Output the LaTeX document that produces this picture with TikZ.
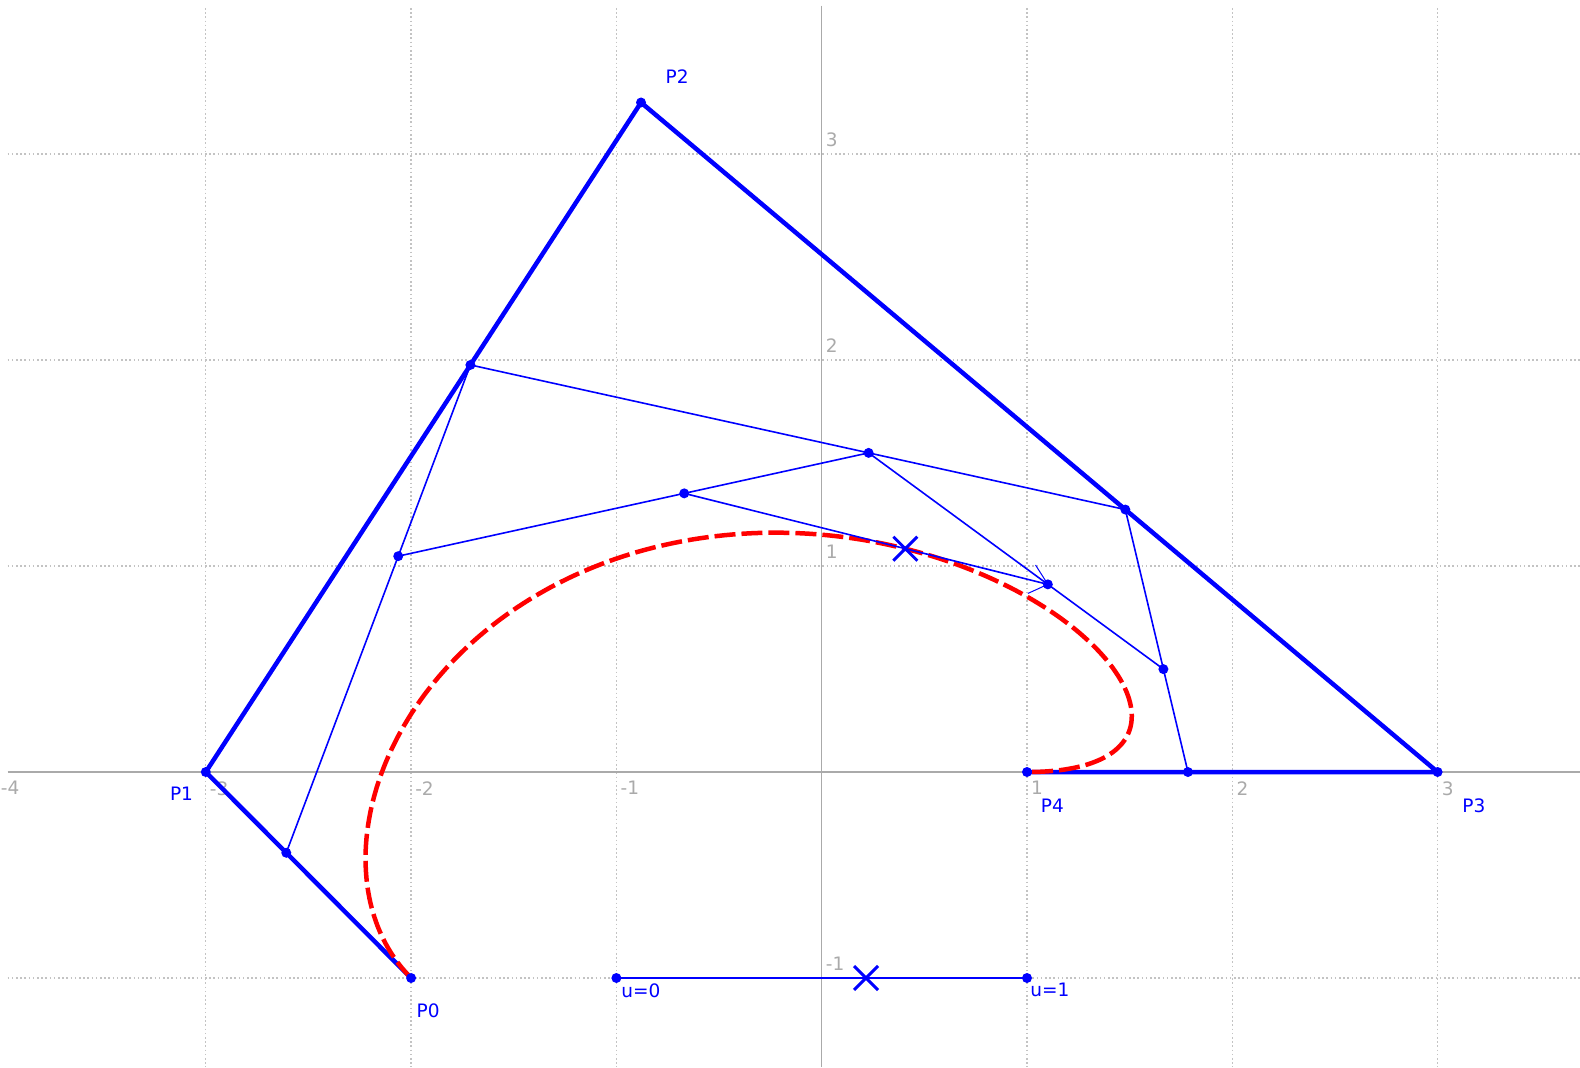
\documentclass[tikz,border=0pt]{standalone}
\usepackage{fontspec}
\setmainfont{DejaVu Sans}
\usetikzlibrary{calc}
\definecolor{pblue}{RGB}{0,0,255}
\definecolor{pred}{RGB}{255,0,0}
\definecolor{axisgray}{RGB}{170,170,170}
\definecolor{gridgray}{RGB}{195,195,195}
\newcommand\tpar{0.608}
\begin{document}
\begin{tikzpicture}[x=205.3bp,y=206bp,
  gridline/.style={gridgray,line width=1.4bp,dash pattern=on 1.6bp off 2.6bp},
  axisline/.style={axisgray,line width=1.6bp},
  ticklbl/.style={axisgray,inner sep=0pt,font=\fontsize{18.5bp}{22bp}\selectfont},
  ptlbl/.style={pblue,inner sep=0pt,anchor=north west,font=\fontsize{18.5bp}{22bp}\selectfont},
  ctrl/.style={pblue,line width=4.5bp,line join=round},
  thinline/.style={pblue,line width=1.6bp},
  curveline/.style={pred,line width=4.5bp,dash pattern=on 21bp off 6bp},
  crossline/.style={pblue,line width=3bp}
]
\useasboundingbox (-4.0024,-1.432) rectangle (3.6936,3.7476);
% grid
\foreach \gx in {-3,-2,-1,1,2,3} \draw[gridline] (\gx,3.709) -- (\gx,-1.432);
\foreach \gy in {-1,1,2,3} \draw[gridline] (-3.965,\gy) -- (3.6936,\gy);
% axes
\draw[axisline] (-3.965,0) -- (3.6936,0);
\draw[axisline] (0,3.72) -- (0,-1.432);
% tick labels
\node[ticklbl,anchor=north west] (txm4) at (-3.999,-0.044) {-4};
\foreach \gx/\lb in {-3/-3,-2/-2,-1/-1,1/1,2/2,3/3}
  \node[ticklbl,anchor=north west] (tx\gx) at (\gx+0.0195,-0.044) {\lb};
\foreach \gy/\lb in {-1/-1,1/1,2/2,3/3}
  \node[ticklbl,anchor=south west] (ty\gy) at (0.0195,\gy+0.034) {\lb};
% control points
\coordinate (P0) at (-2,-1);
\coordinate (P1) at (-3,0);
\coordinate (P2) at (-0.88,3.25);
\coordinate (P3) at (3,0);
\coordinate (P4) at (1,0);
\coordinate (Q0) at ($(P0)!\tpar!(P1)$);
\coordinate (Q1) at ($(P1)!\tpar!(P2)$);
\coordinate (Q2) at ($(P2)!\tpar!(P3)$);
\coordinate (Q3) at ($(P3)!\tpar!(P4)$);
\coordinate (R0) at ($(Q0)!\tpar!(Q1)$);
\coordinate (R1) at ($(Q1)!\tpar!(Q2)$);
\coordinate (R2) at ($(Q2)!\tpar!(Q3)$);
\coordinate (S0) at ($(R0)!\tpar!(R1)$);
\coordinate (S1) at ($(R1)!\tpar!(R2)$);
\coordinate (B) at ($(S0)!\tpar!(S1)$);
\coordinate (U0) at (-1,-1);
\coordinate (U1) at (1,-1);
\coordinate (UT) at ($(U0)!\tpar!(U1)$);
% control polygon
\draw[ctrl] (P0) -- (P1) -- (P2) -- (P3) -- (P4);
% curve
\draw[curveline] plot[domain=0:1,samples=240,variable=\u]
  ({(1-\u)^4*(-2) + 4*(1-\u)^3*\u*(-3) + 6*(1-\u)^2*\u^2*(-0.88) + 4*(1-\u)*\u^3*3 + \u^4},
   {-(1-\u)^4 + 6*(1-\u)^2*\u^2*3.25});
% construction lines
\draw[thinline] (Q0) -- (Q1) -- (Q2) -- (Q3);
\draw[thinline] (R0) -- (R1) -- (R2);
\draw[thinline] (S0) -- (S1);
\draw[pblue,line width=1bp] (S1) -- ++(-0.06,0.094);
\draw[pblue,line width=1bp] (S1) -- ++(-0.097,-0.044);
\draw[thinline] (U0) -- (U1);
% dots
\foreach \p in {P0,P1,P2,P3,P4,Q0,Q1,Q2,Q3,R0,R1,R2,S0,S1,U0,U1}
  \fill[pblue] (\p) circle[radius=5bp];
% crosses
\foreach \p in {B,UT}
  \draw[crossline] (\p) ++(-12bp,-12bp) -- ++(24bp,24bp) (\p) ++(-12bp,12bp) -- ++(24bp,-24bp);
% labels
\node[ptlbl] (lP0) at (-1.974,-1.126) {P0};
\node[ptlbl] (lP1) at (-3.175,-0.0714) {P1};
\node[ptlbl] (lP2) at (-0.761,3.408) {P2};
\node[ptlbl] (lP3) at (3.120,-0.131) {P3};
\node[ptlbl] (lP4) at (1.0667,-0.131) {P4};
\node[ptlbl] (lU0) at (-0.977,-1.025) {u=0};
\node[ptlbl] (lU1) at (1.015,-1.025) {u=1};
\end{tikzpicture}
\end{document}
